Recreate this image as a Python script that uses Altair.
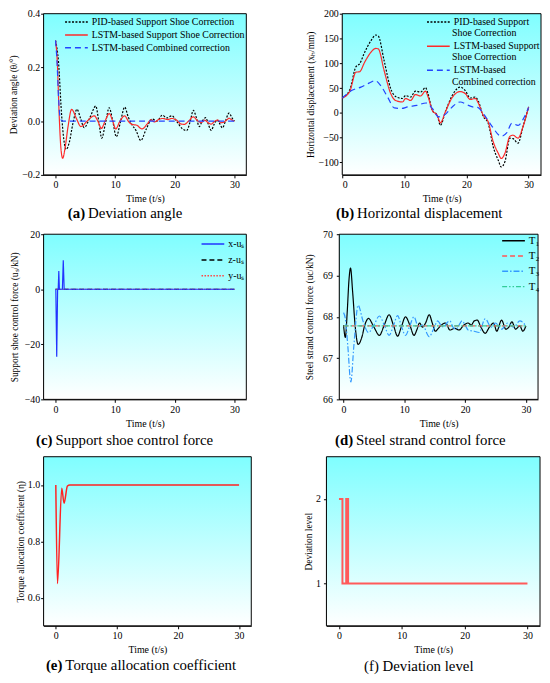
import altair as alt
import pandas as pd

FONT = "Liberation Serif"

# ---------------- (a) Deviation angle ----------------
a_names = ["PID-based Support Shoe Correction", "LSTM-based Support Shoe Correction", "LSTM-based Combined  correction"]
a_pid_t = [0, 0.5, 1.0, 1.4, 1.8, 2.3, 2.9, 3.6, 4.2, 4.8, 5.8, 6.75, 7.25, 7.75, 8.4, 9.0, 9.6, 10.2, 10.9, 11.6,
           12.2, 12.8, 13.5, 14.3, 15.2, 16.2, 17.0, 17.9, 18.7, 19.5, 20.3, 21.2, 22.0, 22.6, 23.1, 23.6, 24.1, 24.6,
           25.2, 25.6, 26.1, 26.6, 27.1, 27.5, 28.0, 28.5, 29.1, 29.6, 30]
a_pid_v = [0.30, 0.22, 0.03, -0.07, -0.105, -0.08, -0.01, 0.044, 0.01, -0.024, 0.015, 0.056, 0.0, -0.063, -0.005,
           0.05, 0.0, -0.058, -0.002, 0.052, 0.015, -0.012, -0.035, -0.072, -0.03, 0.008, 0.0, 0.022, 0.012, 0.02,
           0.0, -0.027, -0.035, 0.0, 0.04, 0.015, -0.02, 0.0, 0.013, -0.01, -0.034, -0.012, 0.004, -0.008, -0.025,
           0.0, 0.03, 0.012, 0.0]
a_lstm_t = [0, 0.3, 0.6, 0.9, 1.2, 1.6, 2.1, 2.7, 3.5, 4.25, 5.3, 6.5, 7.1, 7.7, 8.3, 9.0, 9.6, 10.1, 10.8, 11.6,
            12.2, 12.8, 13.6, 14.5, 15.4, 16.0, 16.6, 17.3, 18.0, 18.8, 19.5, 20.3, 21.0, 21.6, 22.3, 23.1, 23.8,
            24.5, 25.0, 25.5, 26.1, 26.7, 27.2, 27.7, 28.2, 28.7, 29.1, 29.6, 30]
a_lstm_v = [0.30, 0.22, 0.03, -0.10, -0.138, -0.10, -0.02, 0.044, 0.01, -0.02, 0.0, 0.02, 0.0, -0.027, 0.0, 0.028,
            0.0, -0.029, 0.0, 0.02, 0.0, -0.012, -0.015, -0.029, -0.01, 0.005, -0.003, 0.006, 0.01, 0.006, 0.01,
            0.004, -0.01, -0.012, 0.0, 0.016, 0.002, -0.005, 0.004, -0.004, -0.011, 0.0, 0.004, -0.006, -0.004,
            0.004, 0.011, 0.004, 0.0]
a_comb_t = [0, 0.25, 0.5, 0.8, 1.2, 30]
a_comb_v = [0.30, 0.22, 0.09, 0.01, 0.0, 0.0]

# ---------------- (b) Horizontal displacement ----------------
b_names = ["PID-based Support", "LSTM-based Support", "LSTM-based"]
b_names_line2 = ["Shoe Correction", "Shoe Correction", "Combined  correction"]
b_t = [0, 1.2, 2.2, 2.8, 3.6, 4.6, 5.4, 5.8, 6.75, 7.8, 8.6, 9.7, 10.2, 11, 11.8, 12.6, 13.4, 13.8, 14.5, 15.3,
       15.8, 16.6, 17.7, 19, 19.8, 20.6, 21.4, 21.9, 22.7, 23.5, 24.3, 25.1, 25.6, 26.2, 27, 27.5, 28.3, 29.1, 30]
b_pid_v = [30, 46, 93, 99, 122, 145, 157, 155, 105, 49, 33, 29, 35, 32, 44, 42, 51, 39, 5, -5, -25, 2, 35, 52, 45,
           30, 32, 24, -7, -21, -68, -95, -109, -98, -51, -52, -61, -28, 12]
b_lstm_v = [30, 43, 82, 83, 102, 122, 130, 129, 85, 39, 25, 22, 29, 25, 37, 34, 44, 33, 5, -5, -20, 2, 31, 43, 39,
            27, 29, 20, -5, -18, -58, -81, -92, -81, -47, -45, -51, -28, 12]
b_comb_t = [0, 1.5, 3, 4.3, 5.3, 6.2, 7.3, 8.4, 9.6, 10.5, 12, 13.5, 14.5, 15.5, 16.6, 17.7, 19, 20, 21, 21.8, 22.8,
            24, 25.6, 26.5, 27.3, 28.3, 29.2, 30]
b_comb_v = [30, 45, 52, 60, 65, 55, 32, 10, 9, 12, 15, 20, 9, -8, -3, 12, 22, 17, 12, 11, -3, -25, -47, -40, -21,
            -25, -11, 11]

# ---------------- (c) Support shoe control force ----------------
c_names = ["x-u\u209b", "z-u\u209b", "y-u\u209b"]
c_x_t = [0, 0.05, 0.2, 0.35, 0.45, 0.55, 0.65, 1.15, 1.3, 1.45, 30]
c_x_v = [0, 0, -24.5, 0, 0, 6.6, 0, 0, 10.5, 0, 0]
c_z_t = [0, 30]
c_z_v = [0, 0]
c_y_t = [0, 30]
c_y_v = [0, 0]

# ---------------- (d) Steel strand control force ----------------
d_names = ["T\u2081", "T\u2082", "T\u2083", "T\u2084"]
d_t1_t = [0, 0.3, 0.6, 0.9, 1.15, 1.5, 1.9, 2.4, 3.0, 3.5, 4.1, 5.0, 5.9, 6.7, 7.5, 8.2, 8.9, 9.5, 10.2, 10.9,
          11.6, 12.1, 12.5, 13.0, 13.5, 14.1, 14.6, 15.1, 15.6, 16.1, 16.8, 17.5, 18.3, 19.0, 19.8, 20.5, 21.0,
          21.5, 22.0, 22.6, 23.3, 24.0, 24.7, 25.2, 26.0, 26.7, 27.2, 27.7, 28.3, 29.0, 29.5, 30]
d_t1_v = [67.8, 67.5, 68.1, 68.9, 69.18, 68.6, 67.8, 67.33, 67.5, 67.8, 67.96, 67.75, 67.55, 67.8, 68.05, 67.8,
          67.53, 67.75, 68.0, 67.8, 67.55, 67.7, 67.85, 67.75, 67.85, 68.05, 67.85, 67.65, 67.72, 67.8, 67.85, 67.68,
          67.72, 67.68, 67.8, 67.85, 67.8, 67.9, 67.92, 67.75, 67.6, 67.75, 67.85, 67.65, 67.92, 67.7, 67.75, 67.88,
          67.7, 67.78, 67.65, 67.78]
d_t3_t = [0, 0.3, 0.7, 1.2, 1.7, 2.4, 3.2, 4.1, 5.0, 5.9, 6.7, 7.5, 8.2, 8.9, 9.5, 10.2, 10.9, 11.6, 12.3, 13.0,
          14.1, 14.8, 15.5, 16.0, 16.5, 17.0, 17.5, 18.0, 18.5, 19.0, 19.5, 20.0, 20.5, 21.5, 22.3, 23.3, 24.3, 25.0,
          26.0, 27.0, 28.0, 29.0, 30]
d_t3_v = [68.1, 67.95, 67.3, 66.42, 67.3, 68.28, 67.9, 67.62, 67.8, 68.02, 67.8, 67.55, 67.78, 68.03, 67.78, 67.55,
          67.78, 68.0, 67.75, 67.8, 67.52, 67.7, 67.9, 67.8, 67.75, 67.85, 67.9, 67.75, 67.7, 67.8, 67.9, 67.8, 67.68,
          67.65, 67.62, 67.95, 67.75, 67.85, 67.7, 67.85, 67.75, 67.9, 67.78]
d_t2_t = [0, 30]
d_t2_v = [67.78, 67.78]
d_t4_t = [0, 30]
d_t4_v = [67.78, 67.78]

# ---------------- (e) Torque allocation coefficient ----------------
e_t = [0, 0.27, 0.97, 1.35, 1.9, 2.3, 30]
e_v = [1.0, 0.65, 0.988, 0.935, 0.996, 1.0, 1.0]

# ---------------- (f) Deviation level ----------------
f_t = [0, 0.55, 1.15, 1.45, 30]
f_v = [2, 1, 2, 1, 1]

XTICKS = [0, 10, 20, 30]

GRAD = alt.LinearGradient(
    gradient="linear",
    stops=[alt.GradientStop(color="#7ffeff", offset=0), alt.GradientStop(color="#ffffff", offset=1)],
    x1=0, x2=0, y1=0, y2=1)


def df_of(name, ts, vs):
    return pd.DataFrame({"series": [name] * len(ts), "t": ts, "v": vs})


def legend(x, y, rowpad, size=10):
    return alt.Legend(orient="none", legendX=x, legendY=y, title=None, symbolType="M-2,0H2", symbolSize=132,
                      symbolStrokeWidth=1.5, labelFont=FONT, labelFontSize=size, labelColor="black",
                      rowPadding=rowpad, labelOffset=9, padding=0, labelLimit=300)


def panel(series, names, colors, dashes, W, H, xdom, ydom, yvals, yfmt, ytitle, leg, caps,
          ytp=2, ylp=1, sw=1.2, interp="monotone", notes=()):
    layers = [alt.Chart(pd.DataFrame({"k": [0]})).mark_rect(color=GRAD, stroke="black", strokeWidth=1).encode(
        x=alt.value(0), x2=alt.value(W), y=alt.value(0), y2=alt.value(H))]
    for (name, ts, vs) in series:
        enc = dict(
            x=alt.X("t:Q", scale=alt.Scale(domain=xdom, nice=False, zero=False),
                    axis=alt.Axis(values=XTICKS, format="d", title="Time (t/s)")),
            y=alt.Y("v:Q", scale=alt.Scale(domain=ydom, nice=False, zero=False),
                    axis=alt.Axis(values=yvals, format=yfmt, title=ytitle, titlePadding=ytp, labelPadding=ylp)),
        )
        if names is not None:
            enc["color"] = alt.Color("series:N", scale=alt.Scale(domain=names, range=colors), legend=leg)
            enc["strokeDash"] = alt.StrokeDash("series:N", scale=alt.Scale(domain=names, range=dashes), legend=leg)
            mk = alt.Chart(df_of(name, ts, vs)).mark_line(strokeWidth=sw, interpolate=interp)
        else:
            mk = alt.Chart(df_of(name, ts, vs)).mark_line(strokeWidth=sw, interpolate=interp, color=colors[0])
        layers.append(mk.encode(**enc))
    for (txt, x, y) in notes:
        layers.append(alt.Chart(pd.DataFrame({"s": [txt]})).mark_text(
            font=FONT, fontSize=10, align="left", baseline="middle", color="black").encode(
            text="s:N", x=alt.value(x), y=alt.value(y)))
    for (txt, x, y, weight, align) in caps:
        layers.append(alt.Chart(pd.DataFrame({"s": [txt]})).mark_text(
            font=FONT, fontSize=15, fontWeight=weight, align=align, baseline="alphabetic", color="black").encode(
            text="s:N", x=alt.value(x), y=alt.value(y)))
    return alt.layer(*layers).properties(width=W, height=H)


pa = panel([(a_names[0], a_pid_t, a_pid_v), (a_names[1], a_lstm_t, a_lstm_v), (a_names[2], a_comb_t, a_comb_v)],
           a_names, ["#000000", "#ff2a2a", "#2244ff"], [[2, 1.5], [1, 0], [6, 4]],
           205, 163, [-2, 32], [-0.2, 0.4], [-0.2, 0.0, 0.2, 0.4], ".1f", "Deviation angle (\u03b8/\u00b0)",
           legend(26.7, 2, 1),
           [("(a)", 42, 207, "bold", "right"), ("Deviation angle", 45, 207, "normal", "left")], ytp=3)

pb = panel([(b_names[0], b_t, b_pid_v), (b_names[1], b_t, b_lstm_v), (b_names[2], b_comb_t, b_comb_v)],
           b_names, ["#000000", "#ff2a2a", "#2244ff"], [[2, 1.5], [1, 0], [6, 4]],
           201, 163, [0, 32], [-125, 200], [-100, -50, 0, 50, 100, 150, 200], "d",
           "Horizontal displacement (x\u2095/mm)",
           legend(90.7, 2, 12.3),
           [("(b)", 12, 207, "bold", "right"), ("Horizontal displacement", 15, 207, "normal", "left")],
           notes=[(b_names_line2[0], 111, 20), (b_names_line2[1], 111, 44.3), (b_names_line2[2], 111, 69)])

pc = panel([(c_names[1], c_z_t, c_z_v), (c_names[2], c_y_t, c_y_v), (c_names[0], c_x_t, c_x_v)],
           c_names, ["#2233ff", "#000000", "#ff4444"], [[1, 0], [5, 3], [1.5, 1.5]],
           205, 167, [-2, 32], [-40, 20], [-40, -20, 0, 20], "d", "Support shoe control force (u\u209b/kN)",
           legend(164.7, 3.5, 4), [("(c)", 9, 213, "bold", "right"),
                                   ("Support shoe control force", 12, 213, "normal", "left")],
           ytp=5, interp="linear")

pd_ = panel([(d_names[0], d_t1_t, d_t1_v), (d_names[2], d_t3_t, d_t3_v), (d_names[1], d_t2_t, d_t2_v),
             (d_names[3], d_t4_t, d_t4_v)],
            d_names, ["#000000", "#ff5555", "#3399ff", "#33cc99"],
            [[1, 0], [5, 3], [6, 2, 1.5, 2], [5, 2, 1.5, 2, 1.5, 2]],
            201, 167, [-0.7, 32], [66, 70], [66, 67, 68, 69, 70], "d", "Steel strand control force (uc/kN)",
            legend(169.7, 0, 3.5, size=11), [("(d)", 14, 213, "bold", "right"),
                                             ("Steel strand control force", 17, 213, "normal", "left")],
            ytp=8, ylp=4)

pe = panel([("eta", e_t, e_v)], None, ["#ff2222"], None,
           210, 171, [-2, 32], [0.5, 1.1], [0.6, 0.8, 1.0], ".1f", "Torque allocation coefficient (\u03b7)",
           None, [("(e)", 19, 216, "bold", "right"), ("Torque allocation coefficient", 22, 216, "normal", "left")],
           sw=1.5)

pf = panel([("level", f_t, f_v)], None, ["#ff5a5a"], None,
           216, 171, [-2, 32], [0.5, 2.5], [1, 2], "d", "Deviation level",
           None, [("(f) Deviation level", 38, 217, "normal", "left")],
           ytp=2, ylp=3, sw=2, interp="step-after")


def indep(c):
    return c.resolve_scale(color="independent", strokeDash="independent", x="independent",
                           y="independent").resolve_legend(color="independent", strokeDash="independent")


row1 = indep(alt.hconcat(pa, pb, spacing=59))
row2 = indep(alt.hconcat(pc, pd_, spacing=58))
row3 = indep(alt.hconcat(pe, pf, spacing=52))

chart = indep(alt.concat(row1, row2, row3, columns=1, spacing=8, align="none")).properties(
    padding={"left": 0, "top": -3, "right": 0, "bottom": 0}, background="white"
).configure_view(stroke=None).configure_axis(
    labelFont=FONT, titleFont=FONT, labelFontSize=10, titleFontSize=9.5, titleFontWeight="normal",
    tickSize=3, tickColor="black", domainColor="black", labelColor="black", titleColor="black",
    grid=False, labelPadding=1, domainWidth=1, tickWidth=1
).configure_axisX(titleFontSize=10, titlePadding=4, labelPadding=2)

chart.save("out.html", embed_options={"renderer": "svg", "actions": False})
